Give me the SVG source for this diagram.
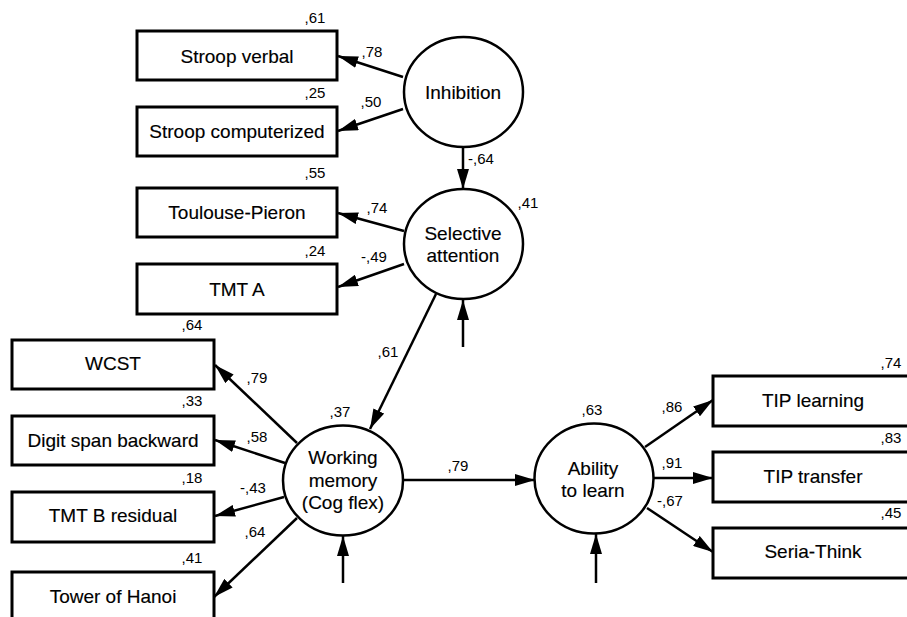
<svg xmlns="http://www.w3.org/2000/svg" width="907" height="617" viewBox="0 0 907 617">
<style>
  .box { fill: #fff; stroke: #000; stroke-width: 3; }
  .lat { fill: #fff; stroke: #000; stroke-width: 2.5; }
  .t { font-family: "Liberation Sans", Arial, sans-serif; font-size: 19px; fill: #000; stroke: #000; stroke-width: 0.15; text-anchor: middle; }
  .n { font-family: "Liberation Sans", Arial, sans-serif; font-size: 15px; fill: #000; text-anchor: middle; }
  .c { stroke: #000; stroke-width: 2.5; fill: none; marker-end: url(#ah); }
</style>
<defs>
  <marker id="ah" markerUnits="userSpaceOnUse" markerWidth="20" markerHeight="12" refX="20" refY="6" orient="auto">
    <path d="M0,0 L20,6 L0,12 z" fill="#000"/>
  </marker>
</defs>
<rect width="907" height="617" fill="#fff"/>

<g id="connectors">
  <line class="c" x1="403" y1="77" x2="338" y2="56"/>
  <line class="c" x1="403" y1="109" x2="338" y2="131"/>
  <line class="c" x1="463" y1="147" x2="463" y2="189"/>
  <line class="c" x1="404" y1="231" x2="338" y2="213"/>
  <line class="c" x1="404" y1="264" x2="338" y2="287"/>
  <line class="c" x1="463" y1="347" x2="463" y2="300"/>
  <line class="c" x1="436" y1="294" x2="370" y2="429"/>
  <line class="c" x1="297" y1="443" x2="215" y2="365"/>
  <line class="c" x1="285" y1="463" x2="215" y2="440"/>
  <line class="c" x1="284" y1="497" x2="215" y2="516"/>
  <line class="c" x1="297" y1="518" x2="214" y2="597"/>
  <line class="c" x1="343" y1="583" x2="343" y2="536"/>
  <line class="c" x1="403" y1="480" x2="535" y2="480"/>
  <line class="c" x1="596" y1="583" x2="596" y2="534"/>
  <line class="c" x1="645" y1="447" x2="713" y2="400"/>
  <line class="c" x1="653" y1="478" x2="713" y2="478"/>
  <line class="c" x1="647" y1="508" x2="713" y2="552"/>
</g>

<g id="labels">
  <text class="n" x="372" y="57">,78</text>
  <text class="n" x="371" y="107">,50</text>
  <text class="n" x="468" y="164" style="text-anchor:start">-,64</text>
  <text class="n" x="377" y="213">,74</text>
  <text class="n" x="374" y="262">-,49</text>
  <text class="n" x="388" y="357">,61</text>
  <text class="n" x="257" y="383">,79</text>
  <text class="n" x="257" y="442">,58</text>
  <text class="n" x="253" y="493">-,43</text>
  <text class="n" x="255" y="537">,64</text>
  <text class="n" x="458" y="471">,79</text>
  <text class="n" x="672" y="412">,86</text>
  <text class="n" x="672" y="468">,91</text>
  <text class="n" x="670" y="506">-,67</text>
</g>

<g id="stroop_verbal">
  <rect class="box" x="137" y="31" width="200" height="49"/>
  <text class="t" x="237" y="63">Stroop verbal</text>
  <text class="n" x="315" y="23">,61</text>
</g>
<g id="stroop_computerized">
  <rect class="box" x="137" y="107" width="200" height="49"/>
  <text class="t" x="237" y="138">Stroop computerized</text>
  <text class="n" x="315" y="98">,25</text>
</g>
<g id="toulouse_pieron">
  <rect class="box" x="137" y="188" width="200" height="49"/>
  <text class="t" x="237" y="219">Toulouse-Pieron</text>
  <text class="n" x="315" y="178">,55</text>
</g>
<g id="tmt_a">
  <rect class="box" x="137" y="264" width="200" height="50"/>
  <text class="t" x="237" y="296">TMT A</text>
  <text class="n" x="315" y="256">,24</text>
</g>
<g id="wcst">
  <rect class="box" x="12" y="340" width="202" height="49"/>
  <text class="t" x="113" y="370">WCST</text>
  <text class="n" x="192" y="330">,64</text>
</g>
<g id="digit_span">
  <rect class="box" x="12" y="416" width="202" height="49"/>
  <text class="t" x="113" y="447">Digit span backward</text>
  <text class="n" x="192" y="406">,33</text>
</g>
<g id="tmt_b">
  <rect class="box" x="12" y="492" width="202" height="50"/>
  <text class="t" x="113" y="522">TMT B residual</text>
  <text class="n" x="192" y="483">,18</text>
</g>
<g id="tower_hanoi">
  <rect class="box" x="12" y="572" width="202" height="60"/>
  <text class="t" x="113" y="603">Tower of Hanoi</text>
  <text class="n" x="192" y="563">,41</text>
</g>
<g id="tip_learning">
  <rect class="box" x="713" y="376" width="202" height="50"/>
  <text class="t" x="813" y="407">TIP learning</text>
  <text class="n" x="891" y="368">,74</text>
</g>
<g id="tip_transfer">
  <rect class="box" x="713" y="452" width="202" height="50"/>
  <text class="t" x="813" y="483">TIP transfer</text>
  <text class="n" x="891" y="443">,83</text>
</g>
<g id="seria_think">
  <rect class="box" x="713" y="528" width="202" height="50"/>
  <text class="t" x="813" y="558">Seria-Think</text>
  <text class="n" x="891" y="518">,45</text>
</g>

<g id="inhibition">
  <ellipse class="lat" cx="463.5" cy="92" rx="59.5" ry="55"/>
  <text class="t" x="463" y="99">Inhibition</text>
</g>
<g id="selective_attention">
  <ellipse class="lat" cx="463.5" cy="244" rx="59.5" ry="55"/>
  <text class="t" x="463" y="240">Selective</text>
  <text class="t" x="463" y="262">attention</text>
  <text class="n" x="528" y="208">,41</text>
</g>
<g id="working_memory">
  <ellipse class="lat" cx="343" cy="480.5" rx="60" ry="55"/>
  <text class="t" x="343" y="464">Working</text>
  <text class="t" x="343" y="487">memory</text>
  <text class="t" x="343" y="509">(Cog flex)</text>
  <text class="n" x="340" y="417">,37</text>
</g>
<g id="ability_to_learn">
  <ellipse class="lat" cx="594" cy="478.5" rx="59.5" ry="55"/>
  <text class="t" x="593" y="475">Ability</text>
  <text class="t" x="593" y="497">to learn</text>
  <text class="n" x="592" y="415">,63</text>
</g>
</svg>
